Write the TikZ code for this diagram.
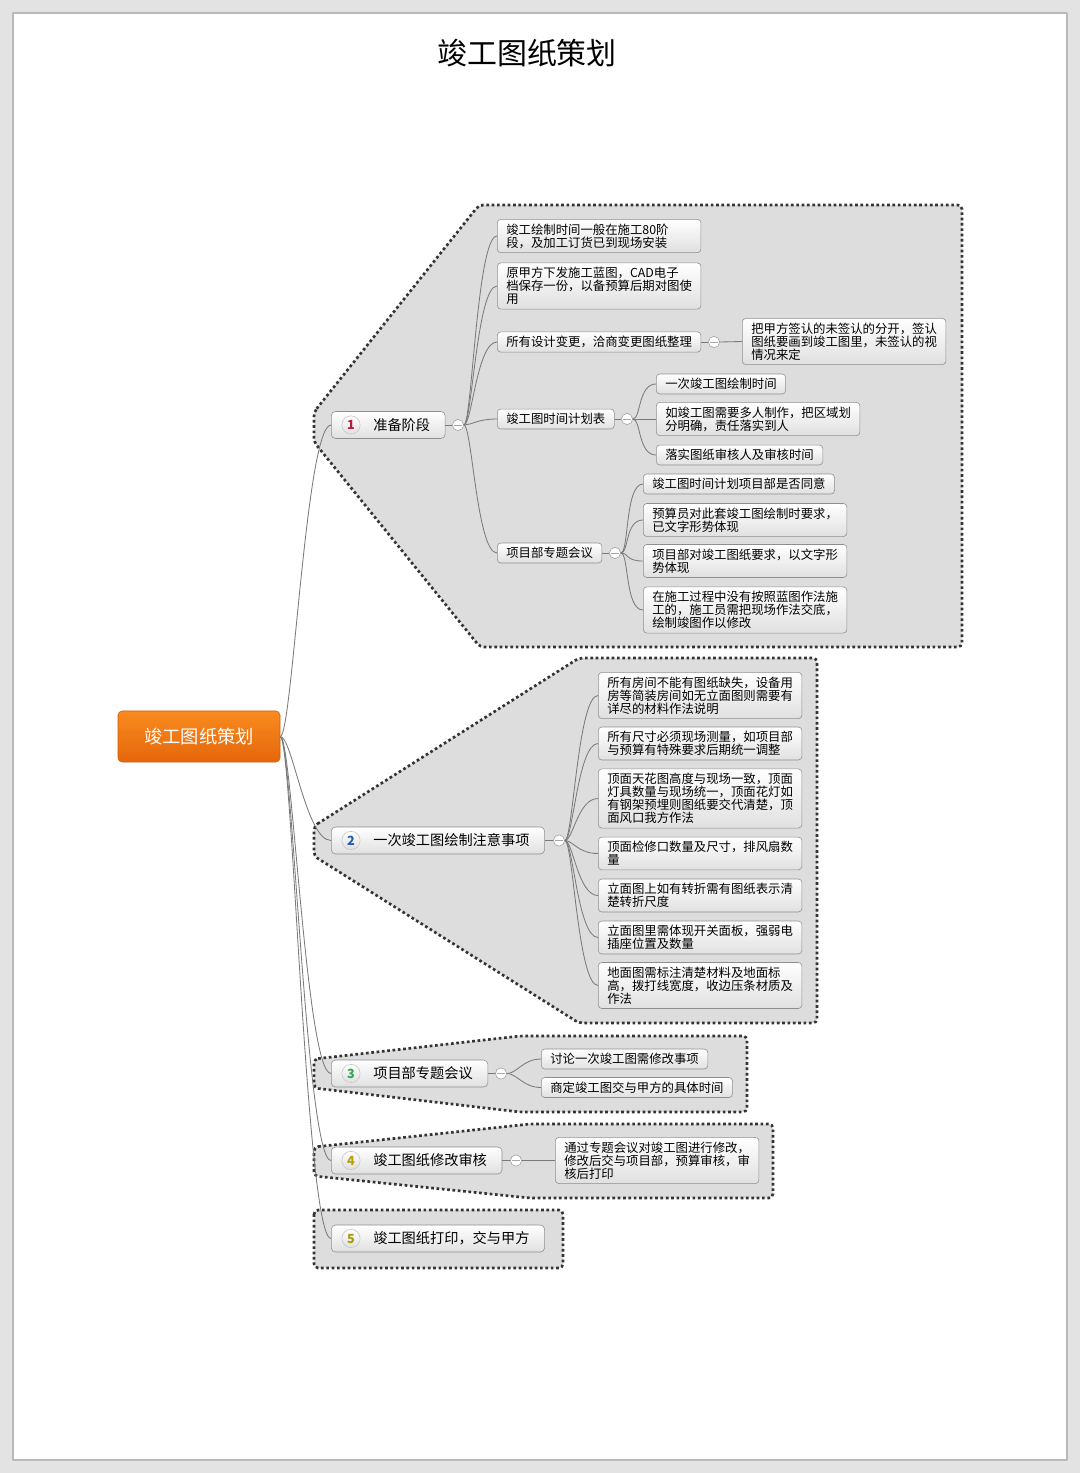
\documentclass[tikz,border=0pt]{standalone}
\usepackage{fontspec}
\setmainfont{Noto Sans CJK SC}
\usepackage{tikz}
\definecolor{pagegray}{HTML}{E3E3E3}
\definecolor{groupfill}{HTML}{DDDDDD}
\definecolor{dotgray}{HTML}{333333}
\definecolor{boxline}{HTML}{8E8E8E}
\definecolor{boxbot}{HTML}{E0E0E0}
\definecolor{linkgray}{HTML}{7A7A7A}
\definecolor{rootTop}{HTML}{F98B1F}
\definecolor{rootBot}{HTML}{E5660B}
\definecolor{numA}{HTML}{B31E3A}
\definecolor{numB}{HTML}{1F5FA8}
\definecolor{numC}{HTML}{2DA84E}
\definecolor{numD}{HTML}{B5A20A}
\definecolor{numE}{HTML}{A89A10}
\tikzset{
  every picture/.style={line join=round},
  root/.style={draw=rootBot!90!black, rounded corners=3pt, top color=rootTop,
    bottom color=rootBot, text=white, font=\fontsize{13}{15}\selectfont,
    minimum width=115.2pt, minimum height=36.3pt},
  branch/.style={draw=boxline, rounded corners=3pt, top color=white,
    bottom color=boxbot, font=\fontsize{10.1}{12}\selectfont,
    minimum height=19.2pt, inner xsep=10.7pt, anchor=west},
  badge/.style={circle, draw=gray!45, top color=white, bottom color=gray!25,
    minimum size=13pt, inner sep=0pt, font=\fontsize{9}{9}\selectfont\bfseries},
  knob/.style={circle, draw=gray!75, fill=white, minimum size=8pt, inner sep=0pt},
  leaf/.style={draw=boxline, rounded corners=2.5pt, top color=white,
    bottom color=boxbot, font=\fontsize{8.8}{9.3}\selectfont, align=left,
    inner xsep=6.4pt, inner ysep=3pt, anchor=west},
  note/.style={leaf, text width=132pt},
  group/.style={fill=groupfill, draw=dotgray, line width=1.9pt,
    dash pattern=on 1.9pt off 1.9pt, rounded corners=3pt},
  link/.style={draw=linkgray, line width=0.6pt},
}
\begin{document}
\begin{tikzpicture}[x=0.025cm, y=-0.025cm]
\useasboundingbox (0,0) rectangle (1080,1473);
% page
\fill[pagegray] (0,0) rectangle (1080,1473);
\draw[line width=1.2pt, draw=gray!55, fill=white] (13,13) rectangle (1067,1460);
\node[font=\fontsize{21.3}{24}\selectfont] (title) at (527,53) {竣工图纸策划};

% group backgrounds
\draw[group] (314,412) -- (479,205) -- (962,205) -- (962,647) -- (480,647) -- (314,442) -- cycle;
\draw[group] (314,826) -- (579,658) -- (817,658) -- (817,1023) -- (579,1023) -- (314,856) -- cycle;
\draw[group] (314,1059) -- (520,1036) -- (747,1036) -- (747,1112) -- (520,1112) -- (314,1088) -- cycle;
\draw[group] (314,1147) -- (530,1124) -- (773,1124) -- (773,1198) -- (530,1198) -- (314,1176) -- cycle;
\draw[group] (314,1210) rectangle (563,1268);

% central topic
\node[root] (root) at (199,736.5) {竣工图纸策划};

% main branches
\node[branch] (b1) at (331,425) {\hspace{19.2pt}准备阶段};
\node[badge, text=numA] (n1) at (351,425) {1};
\node[knob] (k1) at (458,425) {};
\node[branch] (b2) at (331,840.5) {\hspace{19.2pt}一次竣工图绘制注意事项};
\node[badge, text=numB] (n2) at (351,840.5) {2};
\node[knob] (k2) at (559,840.5) {};
\node[branch] (b3) at (331,1073.5) {\hspace{19.2pt}项目部专题会议};
\node[badge, text=numC] (n3) at (351,1073.5) {3};
\node[knob] (k3) at (501,1073.5) {};
\node[branch] (b4) at (331,1160.5) {\hspace{19.2pt}竣工图纸修改审核};
\node[badge, text=numD] (n4) at (351,1160.5) {4};
\node[knob] (k4) at (516,1160.5) {};
\node[branch] (b5) at (331,1238.5) {\hspace{19.2pt}竣工图纸打印，交与甲方};
\node[badge, text=numE] (n5) at (351,1238.5) {5};

% branch 1
\node[note] (l1a) at (497,236) {竣工绘制时间一般在施工80阶\\段，及加工订货已到现场安装};
\node[note] (l1b) at (497,286) {原甲方下发施工蓝图，CAD电子\\档保存一份，以备预算后期对图使\\用};
\node[leaf] (l1c) at (497,342) {所有设计变更，洽商变更图纸整理};
\node[knob] (kc) at (714,342) {};
\node[note] (l1c1) at (742,341.5) {把甲方签认的未签认的分开，签认\\图纸要画到竣工图里，未签认的视\\情况来定};
\node[leaf] (l1d) at (497,419) {竣工图时间计划表};
\node[knob] (kd) at (627,419) {};
\node[leaf] (l1d1) at (656,384) {一次竣工图绘制时间};
\node[note] (l1d2) at (656,419) {如竣工图需要多人制作，把区域划\\分明确，责任落实到人};
\node[leaf] (l1d3) at (656,455) {落实图纸审核人及审核时间};
\node[leaf] (l1e) at (497,553) {项目部专题会议};
\node[knob] (ke) at (615,553) {};
\node[leaf] (l1e1) at (643,484) {竣工图时间计划项目部是否同意};
\node[note] (l1e2) at (643,520) {预算员对此套竣工图绘制时要求，\\已文字形势体现};
\node[note] (l1e3) at (643,561) {项目部对竣工图纸要求，以文字形\\势体现};
\node[note] (l1e4) at (643,610) {在施工过程中没有按照蓝图作法施\\工的，施工员需把现场作法交底，\\绘制竣图作以修改};

% branch 2
\node[note] (l2a) at (598,695.5) {所有房间不能有图纸缺失，设备用\\房等简装房间如无立面图则需要有\\详尽的材料作法说明};
\node[note] (l2b) at (598,743.5) {所有尺寸必须现场测量，如项目部\\与预算有特殊要求后期统一调整};
\node[note] (l2c) at (598,798.5) {顶面天花图高度与现场一致，顶面\\灯具数量与现场统一，顶面花灯如\\有钢架预埋则图纸要交代清楚，顶\\面风口我方作法};
\node[note] (l2d) at (598,853.5) {顶面检修口数量及尺寸，排风扇数\\量};
\node[note] (l2e) at (598,895.5) {立面图上如有转折需有图纸表示清\\楚转折尺度};
\node[note] (l2f) at (598,937.5) {立面图里需体现开关面板，强弱电\\插座位置及数量};
\node[note] (l2g) at (598,985.5) {地面图需标注清楚材料及地面标\\高，拨打线宽度，收边压条材质及\\作法};

% branch 3 and 4
\node[leaf] (l3a) at (541,1059) {讨论一次竣工图需修改事项};
\node[leaf] (l3b) at (541,1087.5) {商定竣工图交与甲方的具体时间};
\node[note] (l4a) at (555,1160.5) {通过专题会议对竣工图进行修改，\\修改后交与项目部，预算审核，审\\核后打印};

% minus marks on the knobs
\draw[gray!70] ([xshift=1.6pt]k1.west) -- ([xshift=-1.6pt]k1.east);
\draw[gray!70] ([xshift=1.6pt]k2.west) -- ([xshift=-1.6pt]k2.east);
\draw[gray!70] ([xshift=1.6pt]k3.west) -- ([xshift=-1.6pt]k3.east);
\draw[gray!70] ([xshift=1.6pt]k4.west) -- ([xshift=-1.6pt]k4.east);
\draw[gray!70] ([xshift=1.6pt]kc.west) -- ([xshift=-1.6pt]kc.east);
\draw[gray!70] ([xshift=1.6pt]kd.west) -- ([xshift=-1.6pt]kd.east);
\draw[gray!70] ([xshift=1.6pt]ke.west) -- ([xshift=-1.6pt]ke.east);

% root connectors
\draw[link] (root.east) .. controls +(12,0) and +(-25,0) .. (b1.west);
\draw[link] (root.east) .. controls +(12,0) and +(-25,0) .. (b2.west);
\draw[link] (root.east) .. controls +(12,0) and +(-25,0) .. (b3.west);
\draw[link] (root.east) .. controls +(12,0) and +(-25,0) .. (b4.west);
\draw[link] (root.east) .. controls +(12,0) and +(-25,0) .. (b5.west);

% branch 1 connectors
\draw[link] (b1.east) -- (k1.west);
\draw[link] (k1.east) .. controls +(8,0) and +(-20,0) .. (l1a.west);
\draw[link] (k1.east) .. controls +(8,0) and +(-20,0) .. (l1b.west);
\draw[link] (k1.east) .. controls +(8,0) and +(-20,0) .. (l1c.west);
\draw[link] (k1.east) .. controls +(8,0) and +(-20,0) .. (l1d.west);
\draw[link] (k1.east) .. controls +(8,0) and +(-20,0) .. (l1e.west);
\draw[link] (l1c.east) -- (kc.west);
\draw[link] (kc.east) -- (l1c1.west);
\draw[link] (l1d.east) -- (kd.west);
\draw[link] (kd.east) .. controls +(8,0) and +(-18,0) .. (l1d1.west);
\draw[link] (kd.east) -- (l1d2.west);
\draw[link] (kd.east) .. controls +(8,0) and +(-18,0) .. (l1d3.west);
\draw[link] (l1e.east) -- (ke.west);
\draw[link] (ke.east) .. controls +(8,0) and +(-18,0) .. (l1e1.west);
\draw[link] (ke.east) .. controls +(8,0) and +(-18,0) .. (l1e2.west);
\draw[link] (ke.east) .. controls +(8,0) and +(-18,0) .. (l1e3.west);
\draw[link] (ke.east) .. controls +(8,0) and +(-18,0) .. (l1e4.west);

% branch 2 connectors
\draw[link] (b2.east) -- (k2.west);
\draw[link] (k2.east) .. controls +(8,0) and +(-20,0) .. (l2a.west);
\draw[link] (k2.east) .. controls +(8,0) and +(-20,0) .. (l2b.west);
\draw[link] (k2.east) .. controls +(8,0) and +(-20,0) .. (l2c.west);
\draw[link] (k2.east) .. controls +(8,0) and +(-20,0) .. (l2d.west);
\draw[link] (k2.east) .. controls +(8,0) and +(-20,0) .. (l2e.west);
\draw[link] (k2.east) .. controls +(8,0) and +(-20,0) .. (l2f.west);
\draw[link] (k2.east) .. controls +(8,0) and +(-20,0) .. (l2g.west);

% branch 3 and 4 connectors
\draw[link] (b3.east) -- (k3.west);
\draw[link] (k3.east) .. controls +(10,0) and +(-18,0) .. (l3a.west);
\draw[link] (k3.east) .. controls +(10,0) and +(-18,0) .. (l3b.west);
\draw[link] (b4.east) -- (k4.west);
\draw[link] (k4.east) -- (l4a.west);
\end{tikzpicture}
\end{document}
